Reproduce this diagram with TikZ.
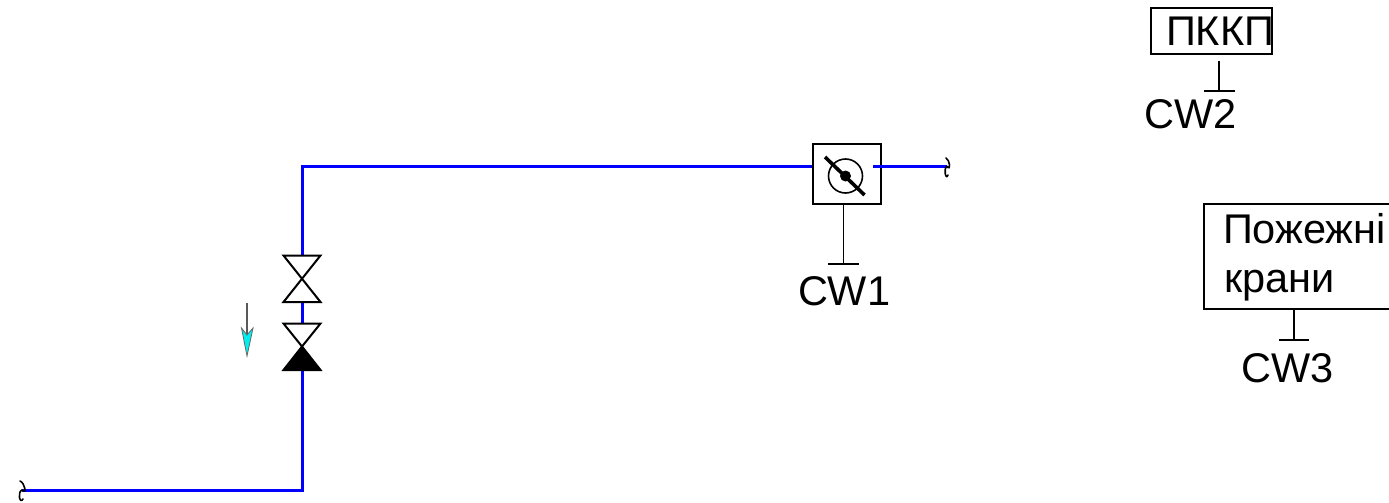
\documentclass[tikz,border=0pt]{standalone}
\usepackage{fontspec}
\setmainfont{Liberation Sans}
\tikzset{
  pipe/.style={draw=pipeblue,line width=3pt},
  thin line/.style={draw=black,line width=1.7pt},
  box/.style={draw=black,line width=1.7pt,fill=white,rectangle,inner sep=0pt,outer sep=0pt},
  label text/.style={font=\fontsize{41.5}{45}\selectfont,text=black,inner sep=0pt,outer sep=0pt,anchor=base west},
  valve/.style={draw=black,line width=2pt,line join=miter,fill=white},
  valve solid/.style={draw=black,line width=2pt,line join=miter,fill=black},
  pipe end/.style={draw=black,line width=1.6pt,line cap=round}
}
\definecolor{pipeblue}{RGB}{0,0,255}
\definecolor{flowcyan}{RGB}{0,240,240}
\begin{document}
\begin{tikzpicture}[x=1pt,y=-1pt]
\clip (0,0) rectangle (1389,503);
\fill[white] (0,0) rectangle (1389,503);
% coordinates
\coordinate (endL) at (22,490);
\coordinate (cornerB) at (302,490);
\coordinate (cornerT) at (302,166.5);
\coordinate (v1t) at (302,255.5);
\coordinate (v1b) at (302,302);
\coordinate (v2t) at (302,323.5);
\coordinate (v2m) at (302,346.5);
\coordinate (v2b) at (302,370);
\coordinate (endR) at (947,166.5);
% pipes
\draw[pipe] (endL) -- (cornerB) -- (v2b);
\draw[pipe] (v2t) -- (v1b);
\draw[pipe] (v1t) -- (cornerT) -- (813,166.5);
% meter
\node[box,minimum width=68pt,minimum height=60pt] (meter) at (847,174) {};
\coordinate (mOut) at (873,166.5);
\draw[pipe] (mOut) -- (endR);
\node[circle,draw=black,line width=1.6pt,minimum size=34pt,inner sep=0pt] (dial) at (845.5,176) {};
\fill[black] (dial.center) circle (5.5pt);
\draw[black,line width=3.6pt] (825,157) -- (864.5,195);
% pipe ends
\draw[pipe end] (endR) ++(-1,-8.5) .. controls +(4,2) and +(4,5) .. (endR) .. controls +(-4,2) and +(-2,6) .. ++(1,8.5);
\draw[pipe end] (endL) ++(-2,-9) .. controls +(5,2) and +(5,5) .. (endL) .. controls +(-5,2) and +(-3,6) .. ++(1,9);
% valves
\draw[valve] (283.5,255.5) -- (320.5,255.5) -- (283.5,302) -- (320.5,302) -- cycle;
\draw[valve] (283.5,323.5) -- (320.5,323.5) -- (v2m) -- cycle;
\draw[valve solid] (v2m) -- (320.5,370) -- (283.5,370) -- cycle;
% flow arrow
\coordinate (fa) at (247,303);
\coordinate (ft) at (247,356);
\draw[draw=gray!70!black,line width=1.3pt] (fa) -- (247,335);
\filldraw[draw=black!60,line width=.8pt,fill=flowcyan] (ft) -- (241.5,328) -- (247,335) -- (253,328) -- cycle;
% CW1
\coordinate (t1) at (843.5,264);
\draw[thin line] (meter.south -| t1) -- (t1);
\draw[thin line] (828,264) -- (859,264);
\node[label text] (cw1) at (798,305) {CW1};
% PKKP
\node[box,minimum width=121pt,minimum height=46pt] (pkkp) at (1211.5,31) {};
\node[label text] (pkkpt) at (1166,46) {ПККП};
\coordinate (s2) at (1219,61);
\coordinate (t2) at (1219,91);
\draw[thin line] (s2) -- (t2);
\draw[thin line] (1204,91) -- (1235,91);
\node[label text] (cw2) at (1144.5,128) {CW2};
% Fire hydrants
\node[box,minimum width=200pt,minimum height=105pt] (crane) at (1304,256.5) {};
\node[label text] (ct1) at (1223,243) {Пожежні};
\node[label text] (ct2) at (1224,292) {крани};
\coordinate (t3) at (1294,340);
\draw[thin line] (crane.south -| t3) -- (t3);
\draw[thin line] (1279,340) -- (1309,340);
\node[label text] (cw3) at (1241.5,382) {CW3};
\end{tikzpicture}
\end{document}
